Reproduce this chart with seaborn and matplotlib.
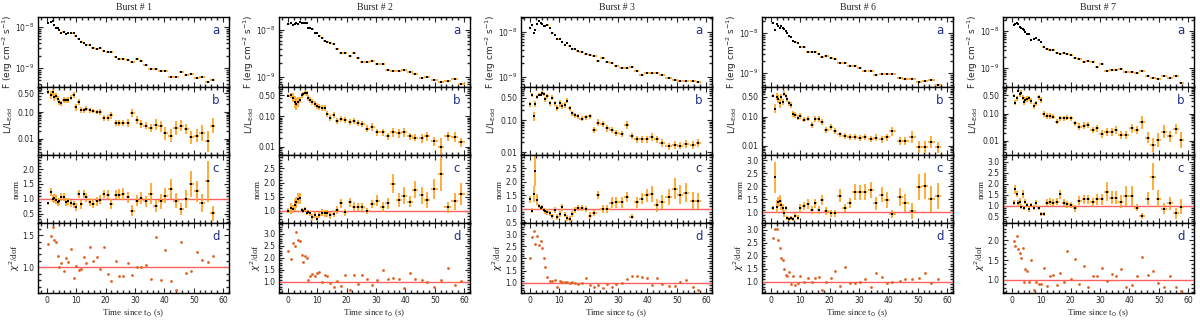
import numpy as np
import matplotlib
matplotlib.use("Agg")
import matplotlib.pyplot as plt
import seaborn as sns
from matplotlib.ticker import (MultipleLocator, FixedLocator, FormatStrFormatter,
                               LogLocator, NullFormatter, LogFormatterSciNotation)

# ---------------- data ----------------
bursts = ["Burst # 1", "Burst # 2", "Burst # 3", "Burst # 6", "Burst # 7"]

# Burst 1
t1 = [0.4,1.4,2.0,2.6,3.1,3.7,4.3,4.9,5.7,6.6,7.3,8.2,9.1,9.8,10.9,11.8,12.6,13.4,14.6,15.7,
      17.1,18.2,19.3,20.7,22.0,23.4,24.6,26.0,27.6,29.1,30.7,32.1,33.6,35.3,37.0,38.7,40.3,42.1,
      44.0,45.7,47.4,49.2,51.0,52.8,54.7,56.4]
F1 = [12.6,13,13.8,11,9.5,9.4,8.5,7,7.6,6.9, 7,7,7,6,5,4.2,4.0,3.7,3.6,3.0,
      2.9,3.0,2.6,2.4,2.4,1.85,1.65,1.65,1.6,1.4, 1.65,1.45,1.2,0.95,0.95,0.87,0.87,0.6,0.6,0.8,
      0.68,0.72,0.58,0.6,0.46,0.52]
L1 = [0.58,0.44,0.55,0.38,0.41,0.31,0.24,0.21,0.28,0.28, 0.28,0.35,0.44,0.15,0.24,0.12,0.116,0.134,0.116,0.106,
      0.10,0.10,0.06,0.06,0.074,0.039,0.039,0.039,0.039,0.092, 0.048,0.036,0.031,0.026,0.033,0.029,0.016,0.013,0.025,0.031,
      0.023,0.011,0.013,0.016,0.008,0.031]
L1_dex = [0.08,0.15,0.12,0.15,0.12,0.12,0.12,0.1,0.12,0.1, 0.12,0.1,0.1,0.12,0.1,0.1,0.1,0.1,0.1,0.08,
          0.08,0.1,0.1,0.1,0.12,0.12,0.12,0.12,0.15,0.15, 0.15,0.15,0.15,0.15,0.2,0.2,0.25,0.25,0.25,0.2,
          0.2,0.25,0.25,0.3,0.4,0.3]
N1 = [0.85,1.23,1.0,1.02,0.97,0.88,0.91,1.06,1.06,0.89, 0.91,0.85,0.82,0.72,1.16,0.82,1.16,1.05,0.89,0.83,
      0.91,0.97,1.16,1.14,0.82,1.14,1.14,1.17,1.05,0.6, 0.94,1.02,0.91,1.17,0.76,0.91,1.10,1.33,0.93,0.65,
      0.99,1.5,1.25,0.85,1.59,0.51]
N1_err = [0.05,0.15,0.12,0.15,0.15,0.12,0.12,0.12,0.12,0.12, 0.12,0.12,0.12,0.12,0.12,0.15,0.15,0.15,0.12,0.15,
          0.15,0.15,0.15,0.15,0.18,0.15,0.18,0.2,0.18,0.2, 0.2,0.2,0.2,0.35,0.2,0.25,0.25,0.35,0.25,0.2,
          0.3,0.45,0.35,0.3,0.7,0.25]
C1 = [1.36,1.48,1.62,1.42,1.40,1.18,1.01,1.07,0.94,1.15, 1.09,1.28,0.84,1.02,0.96,0.97,1.16,1.06,1.32,1.10,
      1.16,0.97,1.32,0.89,0.78,1.10,0.87,0.87,1.07,0.88, 1.01,1.00,1.03,0.82,1.47,0.81,1.27,0.79,0.65,1.39,
      0.91,0.94,1.24,1.11,1.09,1.18]

# Burst 2
t2 = [0.2,1.0,1.7,2.3,2.9,3.5,4.1,4.7,5.2,5.8, 6.4,7.0,7.6,8.4,9.2,9.9,10.7,11.7,12.5,13.4,
      14.5,15.6,16.8,18.1,19.5,21.2,22.4,23.8,25.3,27.0, 28.8,30.5,32.3,34.0,35.8,37.8,39.6,41.6,43.4,45.5,
      47.4,49.8,52.1,54.4,56.8,59.1]
F2 = [13.2,14,12.8,13.5,14,13.5,15,14.5,14,14.5, 14,11,10.9,10.5,8.5,8.5,7.5,6.8,5.9,5.6,
      5.2,5.0,3.9,3.3,3.3,2.8,3.3,2.55,2.1,2.1, 2.2,1.9,1.95,1.45,1.35,1.35,1.43,1.28,1.15,0.97,
      1.03,0.85,0.77,0.82,0.9,0.72]
L2 = [0.48,0.50,0.42,0.30,0.25,0.30,0.34,0.50,0.55,0.60, 0.58,0.40,0.35,0.30,0.25,0.22,0.20,0.19,0.19,0.12,
      0.09,0.11,0.07,0.085,0.075,0.065,0.07,0.06,0.055,0.04, 0.045,0.03,0.03,0.022,0.03,0.028,0.03,0.022,0.02,0.019,
      0.022,0.015,0.010,0.022,0.021,0.014]
L2_dex = [0.05,0.08,0.15,0.2,0.2,0.15,0.1,0.08,0.08,0.06, 0.08,0.1,0.1,0.1,0.1,0.1,0.1,0.1,0.1,0.1,
          0.1,0.1,0.1,0.1,0.1,0.1,0.1,0.1,0.1,0.1, 0.12,0.12,0.12,0.12,0.15,0.15,0.15,0.12,0.12,0.15,
          0.15,0.15,0.3,0.15,0.15,0.15]
N2 = [1.0,1.08,1.05,1.2,1.29,1.42,1.44,1.02,0.99,1.05, 0.93,0.96,0.9,0.78,0.84,0.72,0.84,0.93,0.9,0.9,
      0.84,0.88,1.02,1.26,0.94,1.29,1.14,1.12,1.12,0.99, 1.23,1.36,1.14,1.26,1.96,1.38,1.53,1.32,1.74,1.54,
      1.38,1.78,2.31,1.12,1.34,1.60]
N2_err = [0.08,0.2,0.15,0.2,0.2,0.2,0.2,0.08,0.08,0.08, 0.08,0.08,0.1,0.1,0.1,0.1,0.1,0.12,0.12,0.12,
          0.12,0.12,0.15,0.15,0.12,0.15,0.15,0.15,0.15,0.12, 0.15,0.18,0.18,0.2,0.35,0.25,0.3,0.2,0.3,0.3,
          0.3,0.35,0.6,0.2,0.3,0.4]
C2 = [2.27,1.96,2.6,2.5,3.07,2.74,2.7,2.1,1.84,2.06, 1.99,1.07,1.24,1.31,1.24,1.36,1.41,1.0,1.27,1.24,
      0.96,0.81,1.03,0.84,1.27,0.67,1.27,0.91,1.27,1.13, 0.89,1.07,1.5,1.14,1.17,1.14,0.74,1.39,1.14,1.06,
      1.0,0.79,1.06,1.56,0.87,1.03]

# Burst 3
t3 = [0.0,0.8,1.4,1.9,2.6,3.2,3.8,4.3,4.8,5.3, 6.0,6.8,7.7,8.5,9.4,10.2,11.0,11.9,12.7,13.6,
      14.5,15.3,16.3,17.6,19.1,20.5,22.0,23.3,24.8,26.4, 27.8,29.5,31.3,33.0,34.7,36.4,38.1,39.8,41.5,43.2,
      44.9,47.2,49.4,51.1,53.2,55.5,57.4]
F3 = [12.3,14,9.5,11.3,15.3,17.3,15.8,15,13.4,13.8, 14,12.3,9.5,8.7,7,7,5.9,5.1,5.7,4.8,
      4.2,4.1,3.7,3.5,3.3,3.1,2.9,2.3,2.6,2.2, 2.0,1.8,1.6,1.6,1.65,1.34,1.13,1.2,1.23,1.26,
      1.13,0.95,0.87,0.83,0.83,0.8,0.76]
L3 = [0.31,0.59,0.13,0.31,0.53,0.62,0.62,0.70,0.64,0.45, 0.55,0.33,0.49,0.33,0.24,0.33,0.27,0.29,0.40,0.23,
      0.16,0.14,0.13,0.11,0.12,0.13,0.049,0.083,0.075,0.055, 0.049,0.039,0.036,0.07,0.032,0.025,0.025,0.025,0.029,0.025,
      0.019,0.015,0.017,0.016,0.018,0.017,0.019]
L3_dex = [0.08,0.06,0.15,0.1,0.06,0.05,0.05,0.05,0.06,0.08, 0.08,0.08,0.08,0.08,0.1,0.1,0.1,0.1,0.08,0.08,
          0.08,0.08,0.08,0.08,0.08,0.08,0.1,0.1,0.1,0.1, 0.1,0.1,0.1,0.12,0.1,0.1,0.1,0.1,0.12,0.1,
          0.12,0.12,0.12,0.12,0.12,0.12,0.12]
N3 = [1.35,0.94,1.54,2.4,1.34,1.1,1.03,1.06,0.96,0.91, 0.88,0.84,0.73,0.96,0.71,0.81,1.06,0.79,0.66,0.63,
      0.81,0.96,1.03,1.03,1.0,0.75,0.84,1.5,1.0,1.0, 1.23,1.25,1.25,1.44,0.71,1.25,1.38,1.5,1.56,1.13,
      1.25,1.44,1.75,1.52,1.59,1.31,1.3]
N3_err = [0.12,0.1,0.3,0.55,0.2,0.08,0.08,0.08,0.08,0.08, 0.1,0.1,0.1,0.1,0.12,0.12,0.12,0.1,0.1,0.1,
          0.1,0.12,0.12,0.12,0.12,0.12,0.12,0.15,0.15,0.15, 0.2,0.2,0.2,0.2,0.1,0.2,0.2,0.25,0.3,0.25,
          0.25,0.3,0.4,0.35,0.35,0.3,0.3]
C3 = [2.03,2.87,3.11,2.58,2.9,2.55,2.72,2.44,2.03,1.66, 1.25,1.07,1.10,1.11,0.82,1.10,1.04,1.03,1.03,1.0,
      1.03,1.0,0.96,1.0,1.21,0.93,0.82,0.93,0.79,0.96, 0.82,0.96,1.0,1.17,1.28,1.28,1.25,1.21,0.9,1.21,
      0.97,0.86,0.89,1.04,1.11,0.82,0.72]

# Burst 6
t6 = [0.6,1.5,2.0,2.6,3.2,3.6,4.2,4.5,5.1,5.6, 6.2,7.0,7.7,8.4,9.2,10.1,11.3,12.6,13.9,15.2,
      16.3,17.5,18.9,20.5,21.9,23.4,25.1,26.8,28.5,30.2, 31.9,34.0,35.7,37.7,39.6,41.4,43.9,45.8,48.2,50.3,
      52.4,54.6,56.9]
F6 = [17.8,12.1,17.1,14.7,13.6,14.7,13.6,12.3,11.2,10, 8.5,7.9,6.3,6.0,5.5,4.5,4.5,3.35,3.35,3.35,
      3.0,2.5,2.65,2.4,2.2,1.8,1.8,1.5,1.5,1.3, 1.15,1.15,0.87,0.92,0.92,0.92,0.76,0.69,0.69,0.6,
      0.62,0.66,0.49]
L6 = [0.53,0.19,0.49,0.41,0.29,0.49,0.33,0.64,0.52,0.40, 0.29,0.25,0.13,0.12,0.095,0.11,0.081,0.088,0.052,0.083,
      0.083,0.067,0.035,0.045,0.032,0.025,0.022,0.021,0.020,0.019, 0.020,0.017,0.019,0.017,0.020,0.032,0.015,0.015,0.020,0.0094,
      0.0094,0.014,0.009]
L6_dex = [0.05,0.15,0.12,0.15,0.15,0.1,0.1,0.08,0.08,0.08, 0.1,0.1,0.1,0.1,0.1,0.1,0.1,0.1,0.1,0.1,
          0.1,0.1,0.1,0.1,0.1,0.1,0.1,0.1,0.1,0.1, 0.1,0.1,0.12,0.12,0.12,0.15,0.15,0.15,0.2,0.2,
          0.2,0.2,0.2]
N6 = [1.18,2.35,1.22,1.41,1.45,1.28,1.18,0.96,1.18,0.79, 0.74,0.77,0.74,0.87,0.79,1.18,1.26,1.32,1.09,1.35,
      1.09,1.47,1.06,0.96,0.96,1.64,1.18,1.35,1.79,1.77, 1.79,1.86,1.35,1.68,1.47,0.94,1.58,1.37,1.06,1.99,
      2.03,1.5,1.64]
N6_err = [0.08,0.6,0.25,0.2,0.2,0.2,0.15,0.15,0.08,0.08, 0.08,0.08,0.08,0.1,0.1,0.15,0.15,0.18,0.15,0.18,
          0.15,0.2,0.15,0.12,0.12,0.25,0.15,0.2,0.3,0.3, 0.3,0.3,0.25,0.3,0.3,0.15,0.35,0.35,0.3,0.5,
          0.5,0.5,0.5]
C6 = [2.69,3.05,3.03,2.6,2.32,1.9,1.83,1.5,1.26,1.22, 1.38,0.9,1.22,0.87,0.94,1.22,1.0,1.15,1.0,1.13,
      1.17,0.68,0.97,1.13,1.41,0.83,1.58,0.94,0.96,0.97, 1.1,0.81,1.32,1.17,0.94,0.97,1.04,1.1,1.1,1.15,
      1.32,0.94,1.1]

# Burst 7
t7 = [0.6,1.1,1.7,2.2,2.8,3.2,3.7,4.3,4.6,5.2, 5.7,6.5,7.5,8.3,9.1,10.0,10.8,12.0,13.0,14.1,
      15.4,16.5,17.7,18.8,20.2,21.6,23.0,24.5,25.8,27.5, 29.0,30.6,32.3,34.0,35.4,37.1,38.8,40.8,42.5,44.3,
      46.2,48.1,49.9,51.9,53.8,55.8,57.7]
F7 = [14.2,15.1,16.8,15.1,12.8,11.8,11.1,10.4,9.4,8.5, 8.5,5.8,6.2,6.6,5.6,5.0,3.7,3.2,3.0,3.0,
      2.6,2.4,2.5,2.4,2.3,1.9,1.8,1.45,1.55,1.45, 1.1,1.3,0.86,0.9,0.9,0.92,0.78,0.78,0.75,0.86,
      0.6,0.55,0.52,0.61,0.54,0.61,0.39]
L7 = [0.48,0.26,0.38,0.71,0.53,0.62,0.40,0.29,0.33,0.36, 0.38,0.30,0.20,0.25,0.41,0.33,0.10,0.084,0.084,0.080,
      0.052,0.069,0.069,0.073,0.069,0.045,0.034,0.037,0.039,0.026, 0.029,0.018,0.021,0.021,0.026,0.017,0.017,0.029,0.025,0.049,
      0.013,0.007,0.011,0.022,0.015,0.028,0.011]
L7_dex = [0.05,0.1,0.1,0.05,0.08,0.08,0.1,0.12,0.1,0.1, 0.1,0.1,0.1,0.1,0.1,0.1,0.1,0.1,0.1,0.1,
          0.1,0.1,0.1,0.1,0.1,0.1,0.12,0.12,0.12,0.12, 0.12,0.15,0.15,0.15,0.15,0.15,0.15,0.15,0.15,0.25,
          0.2,0.25,0.25,0.25,0.2,0.2,0.3]
N7 = [1.14,1.74,1.53,1.1,1.18,0.95,1.53,0.88,1.18,1.03, 0.83,1.03,0.91,1.14,0.88,0.62,0.62,1.14,1.18,1.14,
      1.18,1.52,1.14,1.06,1.03,0.88,1.23,1.29,1.29,1.15, 1.29,1.29,1.64,1.36,1.36,1.18,1.44,1.45,0.91,0.53,
      1.32,2.32,1.32,0.85,1.1,0.65,0.95]
N7_err = [0.1,0.2,0.15,0.15,0.15,0.12,0.2,0.1,0.12,0.1, 0.1,0.1,0.12,0.12,0.1,0.08,0.08,0.15,0.15,0.15,
          0.15,0.2,0.15,0.15,0.15,0.15,0.2,0.2,0.2,0.2, 0.25,0.25,0.45,0.3,0.3,0.3,0.45,0.45,0.15,0.15,
          0.3,0.6,0.4,0.25,0.3,0.25,0.35]
C7 = [1.99,1.85,2.1,1.79,1.67,1.56,1.82,0.96,1.28,1.23, 0.96,1.5,0.75,0.96,0.9,0.89,1.31,0.85,1.1,1.13,
      0.88,1.17,0.96,1.73,1.02,1.54,0.9,1.35,0.81,1.1, 1.1,1.29,0.97,1.14,1.1,1.28,0.83,0.87,1.1,1.57,
      1.13,1.23,0.93,0.81,1.11,0.83,0.73]

F_unit = 1e-9

data = [
    (t1, F1, L1, L1_dex, N1, N1_err, C1),
    (t2, F2, L2, L2_dex, N2, N2_err, C2),
    (t3, F3, L3, L3_dex, N3, N3_err, C3),
    (t6, F6, L6, L6_dex, N6, N6_err, C6),
    (t7, F7, L7, L7_dex, N7, N7_err, C7),
]

# axis limits per column (layout)
ylim_a = [(-9.46, -7.76), (-9.21, -7.72), (-9.22, -7.67), (-9.35, -7.60), (-9.51, -7.62)]
ylim_b = [(-2.62, -0.057), (-2.27, -0.03), (-2.09, 0.03), (-2.31, 0.03), (-2.52, 0.0)]
ylim_c = [(0.18, 2.48), (0.56, 2.98), (0.48, 2.99), (0.59, 3.21), (0.21, 3.3)]
ylim_d = [(0.60, 1.69), (0.54, 3.45), (0.59, 3.45), (0.56, 3.27), (0.67, 2.44)]

# ---------------- style ----------------
sns.set_theme(style="ticks")
plt.rcParams.update({
    "font.family": ["DejaVu Sans"],
    "xtick.direction": "in", "ytick.direction": "in",
    "xtick.top": True, "ytick.right": True,
    "xtick.labelsize": 5.5, "ytick.labelsize": 5.5,
    "xtick.major.size": 3.5, "ytick.major.size": 3.5,
    "xtick.minor.size": 2, "ytick.minor.size": 2,
    "xtick.major.width": 0.8, "ytick.major.width": 0.8,
    "xtick.major.pad": 2.5, "ytick.major.pad": 2.5,
    "axes.linewidth": 1.0,
    "axes.edgecolor": "black",
})

ORANGE = "#FFA52A"
CHI_COL = "#E2601E"
LINE_COL = "#FF6060"
LETTER_COL = "#1F2F8A"
SERIF = ["Liberation Serif", "DejaVu Serif"]

fig = plt.figure(figsize=(12, 3.22), dpi=100)
W, H = 1200, 322
col_left = [38, 279, 521, 762, 1003]
col_w = 191
row_edges = [17, 87, 155, 223, 293]
label_x = [-0.12, -0.12, -0.09, -0.085]

for ci, (t, F, L, Ldex, N, Nerr, C) in enumerate(data):
    t = np.asarray(t, float)
    xerr = np.gradient(t) / 2.0
    axes = []
    for ri in range(4):
        top, bot = row_edges[ri], row_edges[ri + 1]
        ax = fig.add_axes([col_left[ci] / W, 1 - bot / H, col_w / W, (bot - top) / H])
        axes.append(ax)
    axa, axb, axc, axd = axes

    # panel a: flux
    Fv = np.asarray(F) * F_unit
    axa.set_yscale("log")
    axa.errorbar(t, Fv, xerr=xerr, yerr=0.03 * Fv, fmt="none", ecolor=ORANGE, elinewidth=1.3, zorder=2)
    sns.scatterplot(x=t, y=Fv, ax=axa, color="black", marker="s", s=3, linewidth=0, zorder=3)
    axa.set_ylim(10 ** ylim_a[ci][0], 10 ** ylim_a[ci][1])
    axa.yaxis.set_major_locator(LogLocator(base=10))
    axa.yaxis.set_major_formatter(LogFormatterSciNotation())
    axa.yaxis.set_minor_locator(LogLocator(base=10, subs=np.arange(2, 10)))
    axa.yaxis.set_minor_formatter(NullFormatter())
    axa.set_ylabel("F (erg cm$^{-2}$ s$^{-1}$)", fontsize=6.5)
    axa.set_title(bursts[ci], fontsize=7, family=SERIF, pad=5)

    # panel b: L/LEdd
    Lv = np.asarray(L)
    d = np.asarray(Ldex)
    lo = Lv * (1 - 10 ** (-d))
    hi = Lv * (10 ** d - 1)
    axb.set_yscale("log")
    axb.errorbar(t, Lv, xerr=xerr, yerr=[lo, hi], fmt="none", ecolor=ORANGE, elinewidth=1.3, zorder=2)
    sns.scatterplot(x=t, y=Lv, ax=axb, color="black", marker="s", s=3, linewidth=0, zorder=3)
    axb.set_ylim(10 ** ylim_b[ci][0], 10 ** ylim_b[ci][1])
    axb.yaxis.set_major_locator(FixedLocator([0.01, 0.1, 0.5]))
    axb.yaxis.set_major_formatter(FormatStrFormatter("%.2f"))
    axb.yaxis.set_minor_locator(LogLocator(base=10, subs=np.arange(2, 10)))
    axb.yaxis.set_minor_formatter(NullFormatter())
    axb.set_ylabel("L/L$_{\\rm Edd}$", fontsize=6.5)

    # panel c: norm
    axc.axhline(1.0, color=LINE_COL, lw=1.0, zorder=1)
    axc.errorbar(t, N, xerr=xerr, yerr=Nerr, fmt="none", ecolor=ORANGE, elinewidth=1.3, zorder=2)
    sns.scatterplot(x=t, y=N, ax=axc, color="black", marker="s", s=3, linewidth=0, zorder=3)
    axc.set_ylim(*ylim_c[ci])
    axc.yaxis.set_major_locator(MultipleLocator(0.5))
    axc.yaxis.set_minor_locator(MultipleLocator(0.1))
    axc.yaxis.set_major_formatter(FormatStrFormatter("%.1f"))
    axc.set_ylabel("norm", fontsize=6.5, family=SERIF)

    # panel d: chi2
    axd.axhline(1.0, color=LINE_COL, lw=1.0, zorder=1)
    sns.scatterplot(x=t, y=C, ax=axd, color=CHI_COL, marker="o", s=4, linewidth=0, zorder=3)
    axd.set_ylim(*ylim_d[ci])
    axd.yaxis.set_major_locator(MultipleLocator(0.5))
    axd.yaxis.set_minor_locator(MultipleLocator(0.1))
    axd.yaxis.set_major_formatter(FormatStrFormatter("%.1f"))
    axd.set_ylabel("$\\chi^2$/dof", fontsize=6.5, family=SERIF)
    axd.set_xlabel("Time since t$_0$ (s)", fontsize=6.5, family=SERIF, labelpad=1.5)

    for ax, letter, lx in zip(axes, "abcd", label_x):
        ax.set_xlim(-3, 62)
        ax.xaxis.set_major_locator(MultipleLocator(10))
        ax.xaxis.set_minor_locator(MultipleLocator(2))
        ax.tick_params(which="both", direction="in", top=True, right=True)
        ax.yaxis.set_label_coords(lx, 0.5)
        ax.text(0.93, 0.80, letter, transform=ax.transAxes, color=LETTER_COL,
                fontsize=8.5, ha="center", va="center")
        if letter != "d":
            ax.tick_params(labelbottom=False)
            ax.set_xlabel("")

fig.savefig("out.png", dpi=100)
